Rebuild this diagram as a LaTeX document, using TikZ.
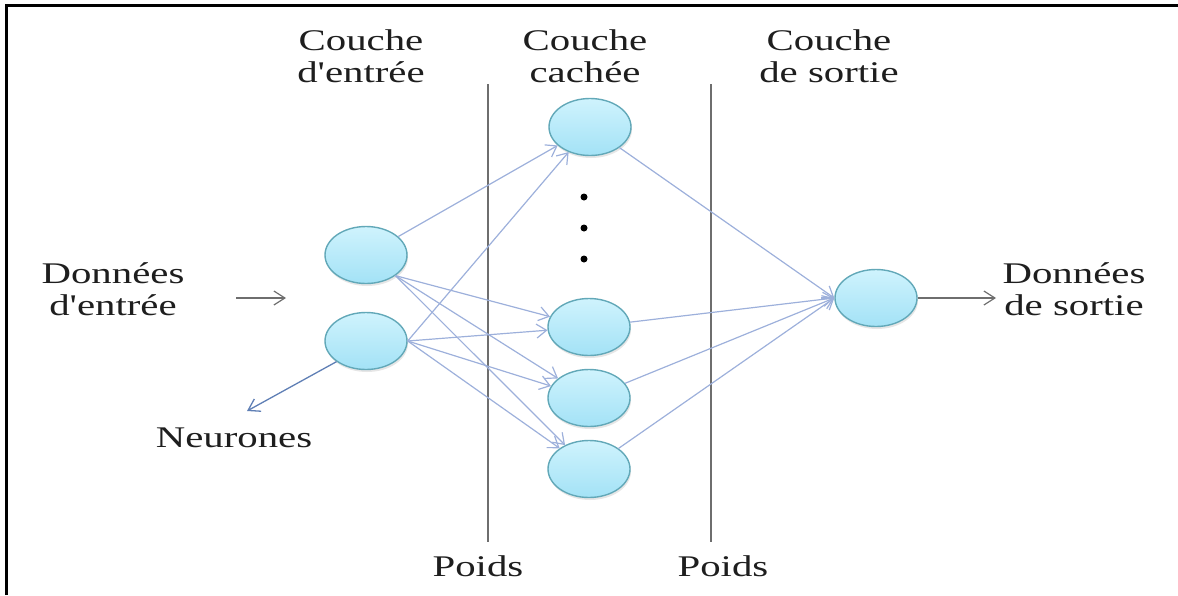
\documentclass[tikz,border=0pt]{standalone}
\usepackage{fontspec}
\newfontfamily\labelfont{Liberation Serif}[FakeStretch=1.36]
\usetikzlibrary{arrows.meta,shapes.geometric,shadows}

\definecolor{neurontop}{HTML}{CFF3FD}
\definecolor{neuronbot}{HTML}{A3E2F6}
\definecolor{neuronedge}{HTML}{62A8B8}
\definecolor{linkcol}{HTML}{9DB0DB}
\definecolor{pointercol}{HTML}{5F7FB5}
\definecolor{guidecol}{HTML}{6E6E6E}
\definecolor{textcol}{HTML}{1E1E1E}

\tikzset{
  neuron/.style={ellipse, minimum width=82pt, minimum height=57pt, inner sep=0pt,
    draw=neuronedge, line width=1.4pt, top color=neurontop, bottom color=neuronbot,
    drop shadow={opacity=0.2, shadow xshift=1pt, shadow yshift=-2.5pt}},
  link/.style={draw=linkcol, line width=1.2pt, -{Straight Barb[length=10pt,width=14pt]}},
  plainarrow/.style={draw=guidecol, line width=1.2pt, -{Straight Barb[length=11pt,width=14pt]}},
  pointer/.style={draw=pointercol, line width=1.3pt, -{Straight Barb[length=11pt,width=14pt]}},
  guide/.style={draw=guidecol, line width=1.4pt},
  caption/.style={font=\labelfont\fontsize{30}{32}\selectfont, text=textcol,
    align=center, inner sep=0pt, anchor=base},
  dotmark/.style={circle, fill=black, inner sep=0pt, minimum size=7pt}
}

\begin{document}
\begin{tikzpicture}[x=1pt, y=-1pt]
  \useasboundingbox (0,0) rectangle (1178,595);

  % frame: top and left edges
  \draw[line width=3pt] (6,595) -- (6,5) -- (1178,5);

  % weight separators
  \coordinate (g1top) at (488,84);
  \coordinate (g1bot) at (488,542);
  \coordinate (g2top) at (711,84);
  \coordinate (g2bot) at (711,542);
  \draw[guide] (g1top) -- (g1bot);
  \draw[guide] (g2top) -- (g2bot);

  % neurons
  \node[neuron] (in1) at (366,255) {};
  \node[neuron] (in2) at (366,341) {};
  \node[neuron] (h1) at (590,127) {};
  \node[neuron] (h2) at (589,327) {};
  \node[neuron] (h3) at (589,398) {};
  \node[neuron] (h4) at (589,469) {};
  \node[neuron] (out) at (876,298) {};

  % ellipsis between hidden neurons
  \node[dotmark] (d1) at (584,197) {};
  \node[dotmark] (d2) at (584,228) {};
  \node[dotmark] (d3) at (584,259) {};

  % input layer -> hidden layer
  \draw[link] (in1) -- (h1);
  \draw[link] (in1.south east) -- (h2);
  \draw[link] (in1.south east) -- (h3);
  \draw[link] (in1.south east) -- (h4);
  \draw[link] (in2.east) -- (h1);
  \draw[link] (in2.east) -- (h2);
  \draw[link] (in2.east) -- (h3);
  \draw[link] (in2.east) -- (h4);

  % hidden layer -> output layer
  \draw[link] (h1) -- (out.west);
  \draw[link] (h2) -- (out.west);
  \draw[link] (h3) -- (out.west);
  \draw[link] (h4) -- (out.west);

  % layer titles (anchored on the baseline of their last line)
  \node[caption] (tin) at (361,82) {Couche\\d'entrée};
  \node[caption] (thid) at (585,82) {Couche\\cachée};
  \node[caption] (tout) at (829,82) {Couche\\de sortie};

  % data in / data out
  \node[caption] (datain) at (113,315) {Données\\d'entrée};
  \coordinate (inarrowstart) at (236,298);
  \coordinate (inarrowend) at (286,298);
  \draw[plainarrow] (inarrowstart) -- (inarrowend);

  \node[caption] (dataout) at (1074,315) {Données\\de sortie};
  \coordinate (outarrowend) at (996,298);
  \draw[plainarrow] (out.east) -- (outarrowend);

  % neuron pointer
  \node[caption] (neur) at (234,447) {Neurones};
  \coordinate (neurtip) at (247,411);
  \draw[pointer] (in2.south west) -- (neurtip);

  % weights
  \node[caption] (w1) at (478,576) {Poids};
  \node[caption] (w2) at (723,576) {Poids};
\end{tikzpicture}
\end{document}
